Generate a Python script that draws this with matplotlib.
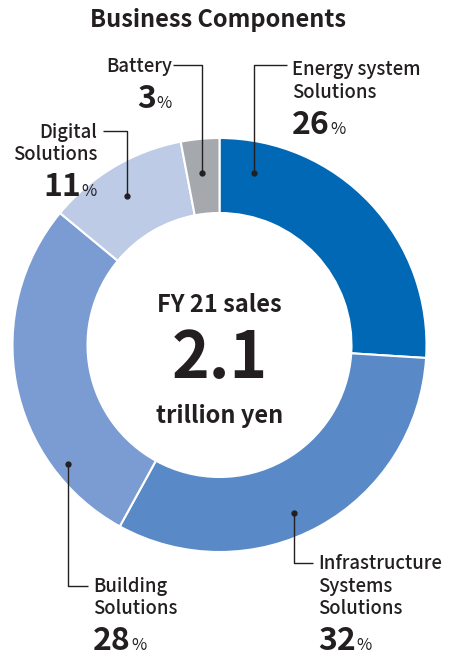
import matplotlib
matplotlib.use("Agg")
import matplotlib.pyplot as plt

plt.rcParams['font.family'] = ['Noto Sans CJK JP', 'DejaVu Sans']

W, H = 450, 657

segments = ["Energy system\nSolutions", "Infrastructure\nSystems\nSolutions",
            "Building\nSolutions", "Digital\nSolutions", "Battery"]
shares = [26, 32, 28, 11, 3]
colors = ["#0068b5", "#598ac7", "#7a9cd2", "#bdcbe7", "#a5a8ac"]

TXT = "#231f20"

fig = plt.figure(figsize=(W / 100, H / 100), dpi=100)
ax = fig.add_axes([0, 0, 1, 1])


def yy(v):
    # y measured from top of the picture
    return H - v


cx, cy, R = 219.5, yy(345), 207
ax.pie(shares, colors=colors, startangle=90, counterclock=False,
       radius=R, center=(cx, cy),
       wedgeprops=dict(width=75, edgecolor="white", linewidth=1.5))
ax.set_xlim(0, W)
ax.set_ylim(0, H)
ax.set_aspect("equal")
ax.axis("off")

ax.text(218.5, yy(27), "Business Components", ha="center", va="baseline",
        fontsize=17, fontweight="bold", color=TXT)

# centre text
ax.text(cx, yy(312), "FY 21 sales", ha="center", va="baseline",
        fontsize=17, fontweight="bold", color=TXT)
ax.text(cx, yy(378), "2.1", ha="center", va="baseline",
        fontsize=46, fontweight="bold", color=TXT)
ax.text(cx, yy(423), "trillion yen", ha="center", va="baseline",
        fontsize=17, fontweight="bold", color=TXT)

# callouts: dot, elbow, line end, label x, first baseline, alignment
callouts = [
    ((254, 173), (254, 65), (287, 65), 292, 75, "left"),
    ((294, 513), (294, 563), (313, 563), 318, 569, "left"),
    ((68, 464), (68, 586), (88, 586), 93, 592, "left"),
    ((127, 196), (127, 131), (103, 131), 97, 138, "right"),
    ((202, 173), (202, 65), (173, 65), 172, 72, "right"),
]

LS = 22.5

fig.canvas.draw()
rend = fig.canvas.get_renderer()
inv = ax.transData.inverted()

for name, pct, (dot, elbow, end, lx, base, ha) in zip(segments, shares, callouts):
    xs = [dot[0], elbow[0], end[0]]
    ys = [yy(dot[1]), yy(elbow[1]), yy(end[1])]
    ax.plot(xs, ys, color=TXT, lw=1.0, solid_capstyle="butt")
    ax.plot(dot[0], yy(dot[1]), "o", color=TXT, ms=3.5)

    lines = name.split("\n")
    for i, ln in enumerate(lines):
        ax.text(lx, yy(base + LS * i), ln, ha=ha, va="baseline",
                fontsize=13.3, fontweight="medium", color=TXT)
    ynum = base + LS * (len(lines) - 1) + 36
    if ha == "right":
        pt = ax.text(lx, yy(ynum), "%", ha="right", va="baseline",
                     fontsize=12, color=TXT)
        bb = pt.get_window_extent(rend)
        x0 = inv.transform((bb.x0, bb.y0))[0]
        ax.text(x0 - 0.5, yy(ynum), str(pct), ha="right", va="baseline",
                fontsize=23, fontweight="bold", color=TXT)
    else:
        nt = ax.text(lx, yy(ynum), str(pct), ha="left", va="baseline",
                     fontsize=23, fontweight="bold", color=TXT)
        bb = nt.get_window_extent(rend)
        x1 = inv.transform((bb.x1, bb.y0))[0]
        ax.text(x1 + 0.5, yy(ynum), "%", ha="left", va="baseline",
                fontsize=12, color=TXT)

fig.savefig("out.png", dpi=100)
